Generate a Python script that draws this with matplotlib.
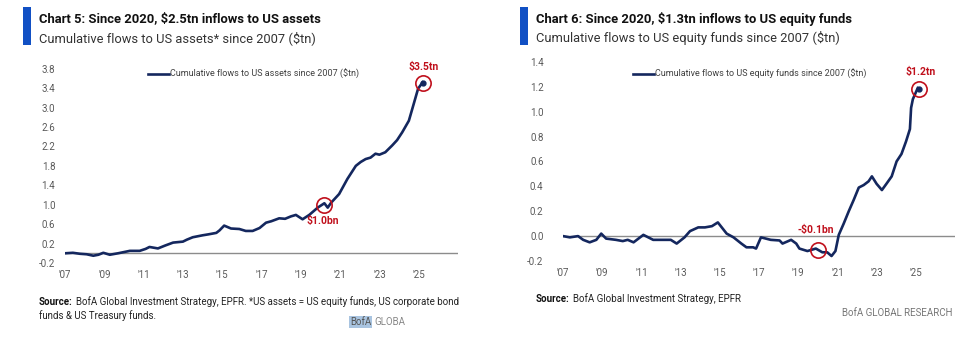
import matplotlib
matplotlib.use("Agg")
import matplotlib.pyplot as plt

matplotlib.rcParams['font.family'] = ['Roboto', 'DejaVu Sans']

# ---- data ($tn) ----
assets_year = [2007.0, 2007.4, 2007.76, 2008.1, 2008.44, 2008.7, 2008.95, 2009.28, 2009.7, 2010.3,
               2010.8, 2011.1, 2011.3, 2011.73, 2012.1, 2012.5, 2013.0, 2013.2, 2013.5, 2014.0,
               2014.3, 2014.7, 2014.86, 2015.1, 2015.45, 2015.87, 2016.2, 2016.55, 2016.9, 2017.23,
               2017.5, 2017.9, 2018.2, 2018.5, 2018.75, 2019.09, 2019.43, 2019.86, 2020.2, 2020.37,
               2020.54, 2020.95, 2021.37, 2021.8, 2022.05, 2022.3, 2022.55, 2022.8, 2023.0, 2023.3,
               2023.65, 2023.9, 2024.16, 2024.5, 2024.75, 2024.97, 2025.2]
assets_val = [0.00, 0.01, -0.01, -0.02, -0.05, -0.03, 0.01, -0.03, 0.00, 0.05,
              0.05, 0.09, 0.13, 0.10, 0.16, 0.22, 0.24, 0.28, 0.33, 0.37,
              0.39, 0.42, 0.47, 0.57, 0.51, 0.50, 0.46, 0.46, 0.52, 0.63,
              0.66, 0.72, 0.71, 0.76, 0.79, 0.70, 0.79, 0.94, 1.03, 0.94,
              1.04, 1.22, 1.53, 1.80, 1.88, 1.94, 1.97, 2.05, 2.03, 2.08,
              2.22, 2.33, 2.49, 2.73, 3.08, 3.39, 3.52]

equity_year = [2007.0, 2007.35, 2007.77, 2008.03, 2008.36, 2008.7, 2008.95, 2009.2, 2009.7, 2010.05,
               2010.3, 2010.6, 2011.1, 2011.6, 2012.05, 2012.5, 2012.8, 2013.2, 2013.48, 2013.9,
               2014.24, 2014.6, 2014.9, 2015.35, 2015.7, 2016.1, 2016.36, 2016.7, 2016.85, 2017.1,
               2017.6, 2018.05, 2018.2, 2018.64, 2018.9, 2019.06, 2019.47, 2019.9, 2020.23, 2020.48,
               2020.7, 2020.9, 2021.07, 2021.32, 2021.58, 2021.83, 2022.09, 2022.34, 2022.59, 2022.76,
               2023.0, 2023.27, 2023.5, 2023.77, 2024.02, 2024.27, 2024.5, 2024.7, 2024.76, 2024.85,
               2025.1]
equity_val = [0.00, -0.01, 0.00, -0.03, -0.05, -0.03, 0.02, -0.02, -0.03, -0.04,
              -0.03, -0.05, 0.01, -0.03, -0.03, -0.03, -0.06, -0.01, 0.04, 0.07,
              0.07, 0.08, 0.11, 0.02, -0.01, -0.06, -0.09, -0.09, -0.10, -0.01,
              -0.03, -0.035, -0.06, -0.03, -0.06, -0.10, -0.12, -0.10, -0.13, -0.13,
              -0.16, -0.12, 0.01, 0.10, 0.20, 0.29, 0.39, 0.41, 0.44, 0.48,
              0.42, 0.37, 0.42, 0.48, 0.60, 0.66, 0.76, 0.86, 1.03, 1.10,
              1.19]

year_ticks = list(range(2007, 2026, 2))
year_labels = ["'%02d" % (y % 100) for y in year_ticks]

NAVY = '#14275e'
RED = '#c0101c'
GRAY = '#595959'

fig = plt.figure(figsize=(9.77, 3.6), dpi=100)
bg = fig.add_axes([0, 0, 1, 1])
bg.axis('off')
bg.set_xlim(0, 977)
bg.set_ylim(360, 0)


def panel(rect, years, vals, ylim, yticks, legend_label, legend_pos, ypad,
          mid_pt, mid_txt, end_pt, end_txt):
    ax = fig.add_axes(rect)
    ax.plot(years, vals, color=NAVY, linewidth=1.9, label=legend_label)
    ax.axhline(0, color='#8c8c8c', linewidth=1.0, zorder=0)
    ax.set_xlim(2007, 2027)
    ax.set_ylim(*ylim)
    ax.set_yticks(yticks)
    ax.set_yticklabels(["%.1f" % v for v in yticks])
    ax.set_xticks(year_ticks)
    ax.set_xticklabels(year_labels)
    for s in ax.spines.values():
        s.set_visible(False)
    ax.tick_params(axis='both', length=0, labelsize=7, labelcolor=GRAY)
    ax.tick_params(axis='y', pad=ypad)
    ax.tick_params(axis='x', pad=5)
    ax.legend(loc='center left', bbox_to_anchor=legend_pos, frameon=False,
              fontsize=6.5, handlelength=2.3, handletextpad=0.1,
              borderpad=0, borderaxespad=0, labelcolor='#404040')
    # highlighted points
    ax.plot(*mid_pt, 'o', ms=11, mfc='none', mec=RED, mew=1.2)
    ax.annotate(mid_txt[0], xy=mid_pt, xytext=mid_txt[1], textcoords='offset points',
                ha='center', va='center', color=RED, fontsize=7.5, fontweight='bold')
    ax.plot(*end_pt, 'o', ms=3.5, color=NAVY)
    ax.plot(*end_pt, 'o', ms=11, mfc='none', mec=RED, mew=1.2)
    ax.annotate(end_txt, xy=end_pt, xytext=(1, 12), textcoords='offset points',
                ha='center', va='center', color=RED, fontsize=7.5, fontweight='bold')
    return ax


panel([65 / 977, 1 - 263 / 360, 393 / 977, 204 / 360], assets_year, assets_val,
      (-0.2, 4.0), [-0.2 + 0.4 * i for i in range(11)],
      'Cumulative flows to US assets since 2007 (\\$tn)', (0.211, 0.926), 7,
      (2020.2, 1.0), ("\\$1.0bn", (-1, -12)), (2025.2, 3.5), "\\$3.5tn")

panel([563 / 977, 1 - 261 / 360, 392 / 977, 205 / 360], equity_year, equity_val,
      (-0.2, 1.447), [-0.2 + 0.2 * i for i in range(9)],
      'Cumulative flows to US equity funds since 2007 (\\$tn)', (0.179, 0.911), 14,
      (2020.03, -0.115), ("-\\$0.1bn", (-2, 15)), (2025.15, 1.185), "\\$1.2tn")

# titles
for x0, title, sub in [(23, "Chart 5: Since 2020, \\$2.5tn inflows to US assets",
                        "Cumulative flows to US assets* since 2007 (\\$tn)"),
                       (520, "Chart 6: Since 2020, \\$1.3tn inflows to US equity funds",
                        "Cumulative flows to US equity funds since 2007 (\\$tn)")]:
    bg.add_patch(plt.Rectangle((x0, 7), 8, 38, color='#1150c4', lw=0))
    bg.text(x0 + 16, 19, title, fontsize=9.4, fontweight='bold', color='#111111', va='center')
    bg.text(x0 + 16, 38, sub, fontsize=9.3, color='#333333', va='center')

# sources
FS = 7.0
t1 = bg.text(39, 302, "Source:", fontsize=FS, fontweight='bold', color='#111111', va='center')
bg.annotate("BofA Global Investment Strategy, EPFR. *US assets = US equity funds, US corporate bond",
            xy=(1, 0), xycoords=t1, xytext=(2.5, 0), textcoords='offset points',
            va='bottom', fontsize=FS, color='#222222')
bg.text(39, 316, "funds & US Treasury funds.", fontsize=FS, color='#222222', va='center')
t2 = bg.text(536, 299, "Source:", fontsize=FS, fontweight='bold', color='#111111', va='center')
bg.annotate("BofA Global Investment Strategy, EPFR",
            xy=(1, 0), xycoords=t2, xytext=(2.5, 0), textcoords='offset points',
            va='bottom', fontsize=FS, color='#222222')
bg.text(952, 313, "BofA GLOBAL RESEARCH", fontsize=FS, color='#777777', va='center', ha='right')
t3 = bg.text(350, 322, "BofA", fontsize=FS, color='#555555', va='center',
             bbox=dict(facecolor='#a9c4e0', edgecolor='none', pad=0.5))
bg.annotate("GLOBA", xy=(1, 0), xycoords=t3, xytext=(2, 0), textcoords='offset points',
            va='bottom', fontsize=FS, color='#888888')

fig.savefig("out.png", dpi=100)
